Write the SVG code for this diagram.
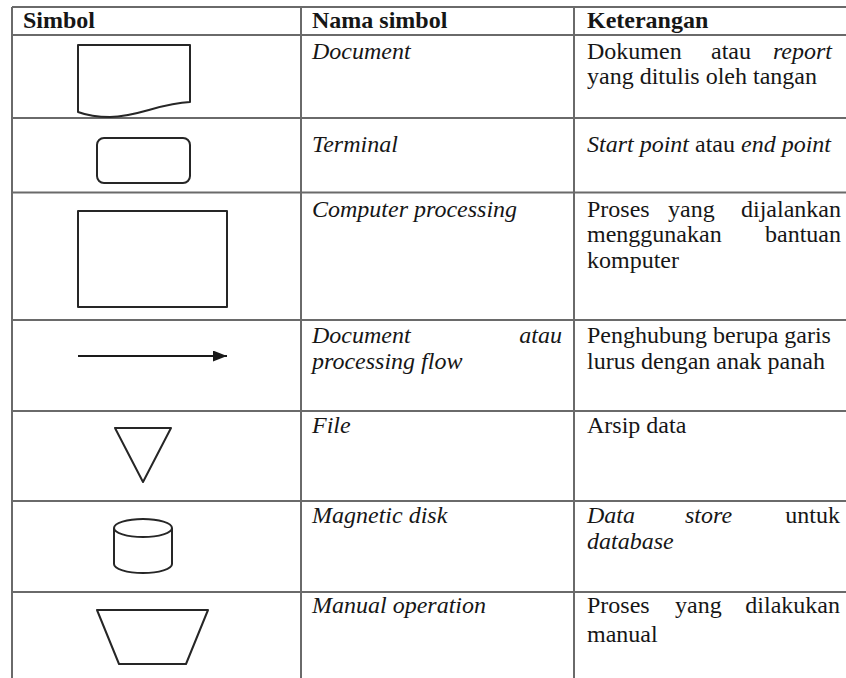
<svg xmlns="http://www.w3.org/2000/svg" width="846" height="678" viewBox="0 0 846 678">
  <style>
    .grid { stroke: #6a6a6a; stroke-width: 2; fill: none; }
    .sym { stroke: #262626; stroke-width: 2; fill: #ffffff; stroke-linejoin: round; }
    .t { font-family: "Liberation Serif", "Times New Roman", serif; font-size: 24px; fill: #161616; }
    .h { font-weight: bold; }
    .i { font-style: italic; }
    .e { text-anchor: end; }
  </style>
  <defs>
    <marker id="arrowhead" viewBox="0 0 14 11" refX="14" refY="5.5" markerWidth="14" markerHeight="11" markerUnits="userSpaceOnUse" orient="auto">
      <path d="M0,0 L14,5.5 L0,11 Z" fill="#1a1a1a"/>
    </marker>
  </defs>

  <rect width="846" height="678" fill="#ffffff"/>

  <!-- table grid -->
  <g id="table-grid" class="grid">
    <line x1="12" y1="7" x2="846" y2="7"/>
    <line x1="12" y1="35" x2="846" y2="35"/>
    <line x1="12" y1="118" x2="846" y2="118"/>
    <line x1="12" y1="192.5" x2="846" y2="192.5"/>
    <line x1="12" y1="320" x2="846" y2="320"/>
    <line x1="12" y1="411" x2="846" y2="411"/>
    <line x1="12" y1="501" x2="846" y2="501"/>
    <line x1="12" y1="592" x2="846" y2="592"/>
    <line x1="12" y1="7" x2="12" y2="678"/>
    <line x1="301" y1="7" x2="301" y2="678"/>
    <line x1="574" y1="7" x2="574" y2="678"/>
  </g>

  <!-- header -->
  <g id="header">
    <text class="t h" x="23" y="28">Simbol</text>
    <text class="t h" x="312" y="28">Nama simbol</text>
    <text class="t h" x="587" y="28">Keterangan</text>
  </g>

  <!-- document -->
  <g id="document">
    <path class="sym" d="M78,45 H190 V102 C160,103 138,117 110,117 C97,117 86,115 78,112 Z"/>
    <text class="t i" x="312" y="59">Document</text>
    <text class="t" y="59"><tspan x="587">Dokumen</tspan><tspan x="711">atau</tspan></text>
    <text class="t i e" x="832" y="59">report</text>
    <text class="t" x="587" y="84">yang ditulis oleh tangan</text>
  </g>

  <!-- terminal -->
  <g id="terminal">
    <rect class="sym" x="97" y="138" width="93" height="45" rx="7" ry="7"/>
    <text class="t i" x="312" y="152">Terminal</text>
    <text class="t" x="587" y="152"><tspan class="i">Start point</tspan> atau <tspan class="i">end point</tspan></text>
  </g>

  <!-- computer processing -->
  <g id="computer-processing">
    <rect class="sym" x="78" y="211" width="149" height="96"/>
    <text class="t i" x="312" y="217">Computer processing</text>
    <text class="t" y="217"><tspan x="587">Proses</tspan><tspan x="668">yang</tspan></text>
    <text class="t e" x="841" y="217">dijalankan</text>
    <text class="t" x="587" y="242">menggunakan</text>
    <text class="t e" x="841" y="242">bantuan</text>
    <text class="t" x="587" y="268">komputer</text>
  </g>

  <!-- document / processing flow -->
  <g id="connectors">
    <line x1="78" y1="356" x2="227" y2="356" stroke="#1a1a1a" stroke-width="2" marker-end="url(#arrowhead)"/>
  </g>
  <g id="processing-flow">
    <text class="t i" x="312" y="343">Document</text>
    <text class="t i e" x="562" y="343">atau</text>
    <text class="t i" x="312" y="369">processing flow</text>
    <text class="t" x="587" y="343">Penghubung berupa garis</text>
    <text class="t" x="587" y="369">lurus dengan anak panah</text>
  </g>

  <!-- file -->
  <g id="file">
    <path class="sym" d="M115,428 H171 L143,482 Z"/>
    <text class="t i" x="312" y="433">File</text>
    <text class="t" x="587" y="433">Arsip data</text>
  </g>

  <!-- magnetic disk -->
  <g id="magnetic-disk">
    <path class="sym" d="M114,528 V564 A29,9 0 0 0 172,564 V528"/>
    <ellipse class="sym" cx="143" cy="528" rx="29" ry="9"/>
    <text class="t i" x="312" y="523">Magnetic disk</text>
    <text class="t i" x="587" y="523">Data</text>
    <text class="t i" x="685" y="523">store</text>
    <text class="t e" x="840" y="523">untuk</text>
    <text class="t i" x="587" y="549">database</text>
  </g>

  <!-- manual operation -->
  <g id="manual-operation">
    <path class="sym" d="M97,610 H208 L186,664 H119 Z"/>
    <text class="t i" x="312" y="613">Manual operation</text>
    <text class="t" y="613"><tspan x="587">Proses</tspan><tspan x="675">yang</tspan></text>
    <text class="t e" x="840" y="613">dilakukan</text>
    <text class="t" x="587" y="642">manual</text>
  </g>
</svg>
